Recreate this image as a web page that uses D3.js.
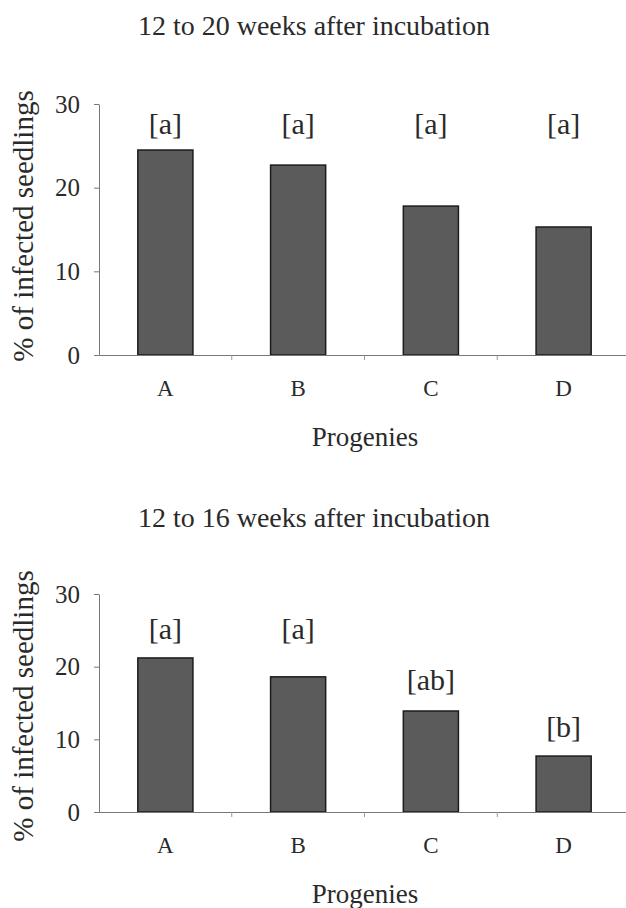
<!DOCTYPE html>
<html>
<head>
<meta charset="utf-8">
<script src="https://cdn.jsdelivr.net/npm/d3@7"></script>
<style>
  html, body { margin: 0; padding: 0; background: #fff; }
  svg { display: block; }
  text { font-family: "Liberation Serif", "DejaVu Serif", serif; fill: #2a2a2a; }
</style>
</head>
<body>
<script>
// Progenies on the x axis
const progenies = ["A", "B", "C", "D"];

// % of infected seedlings per progeny
const infected12to20 = [24.5, 22.7, 17.8, 15.3];
const infected12to16 = [21.2, 18.6, 13.9, 7.7];

// significance letters and the value level at which each one is written
const letters12to20 = ["[a]", "[a]", "[a]", "[a]"];
const letterLevel12to20 = [27.7, 27.7, 27.7, 27.7];
const letters12to16 = ["[a]", "[a]", "[ab]", "[b]"];
const letterLevel12to16 = [25.3, 25.3, 18.2, 11.8];

const yTicks = [0, 10, 20, 30];
const titles = ["12 to 20 weeks after incubation", "12 to 16 weeks after incubation"];
const xTitle = "Progenies";
const yTitle = "% of infected seedlings";

const W = 626, H = 908;
const svg = d3.select("body").append("svg").attr("width", W).attr("height", H);

const panels = [
  { title: titles[0], values: infected12to20, letters: letters12to20, levels: letterLevel12to20,
    titleY: 35, top: 104, bottom: 355, yTitleCY: 226, catY: 41, xTitleY: 446 },
  { title: titles[1], values: infected12to16, letters: letters12to16, levels: letterLevel12to16,
    titleY: 527, top: 594, bottom: 812, yTitleCY: 706, catY: 41, xTitleY: 903 }
];

const left = 99, right = 630;

panels.forEach(p => {
  const g = svg.append("g");

  const x = d3.scaleBand().domain(progenies).range([left, right])
    .paddingInner(0.585).paddingOuter(0.2925);
  const y = d3.scaleLinear().domain([0, 30]).range([p.bottom, p.top]);

  // title
  g.append("text").attr("x", 314).attr("y", p.titleY)
    .attr("text-anchor", "middle").style("font-size", "28px").text(p.title);

  // bars
  g.selectAll("rect.bar").data(progenies).join("rect").attr("class", "bar")
    .attr("x", d => x(d))
    .attr("width", x.bandwidth())
    .attr("y", (d, i) => y(p.values[i]))
    .attr("height", (d, i) => y(0) - y(p.values[i]))
    .attr("fill", "#5b5b5b")
    .attr("stroke", "#1c1c1c")
    .attr("stroke-width", 1.5);

  // y axis
  const ya = g.append("g").attr("transform", `translate(${left},0)`)
    .call(d3.axisLeft(y).tickValues(yTicks).tickSize(5).tickPadding(14).tickSizeOuter(0));
  ya.select(".domain").attr("stroke", "#777");
  ya.selectAll(".tick line").attr("stroke", "#777");
  ya.selectAll(".tick text").style("font-size", "25px").style("font-family", "Liberation Serif, serif")
    .attr("fill", "#2a2a2a");

  // x axis (category labels)
  const xa = g.append("g").attr("transform", `translate(0,${p.bottom})`)
    .call(d3.axisBottom(x).tickSize(0).tickSizeOuter(0));
  xa.select(".domain").attr("stroke", "#777");
  xa.selectAll(".tick text").attr("y", p.catY).attr("dy", 0)
    .style("font-size", "23px").style("font-family", "Liberation Serif, serif").attr("fill", "#2a2a2a");

  // small ticks between categories
  const step = x.step();
  g.selectAll("line.sep").data(progenies.slice(0, -1)).join("line").attr("class", "sep")
    .attr("x1", d => x(d) + x.bandwidth() + (step - x.bandwidth()) / 2)
    .attr("x2", d => x(d) + x.bandwidth() + (step - x.bandwidth()) / 2)
    .attr("y1", p.bottom).attr("y2", p.bottom + 5)
    .attr("stroke", "#999");

  // significance letters
  g.selectAll("text.letter").data(progenies).join("text").attr("class", "letter")
    .attr("x", d => x(d) + x.bandwidth() / 2)
    .attr("y", (d, i) => y(p.levels[i]))
    .attr("dy", "0.35em")
    .attr("text-anchor", "middle").style("font-size", "30px")
    .text((d, i) => p.letters[i]);

  // axis titles
  g.append("text").attr("x", 365).attr("y", p.xTitleY)
    .attr("text-anchor", "middle").style("font-size", "27px").text(xTitle);
  g.append("text").attr("transform", `translate(33,${p.yTitleCY}) rotate(-90)`)
    .attr("text-anchor", "middle").style("font-size", "29px").text(yTitle);
});
</script>
</body>
</html>
